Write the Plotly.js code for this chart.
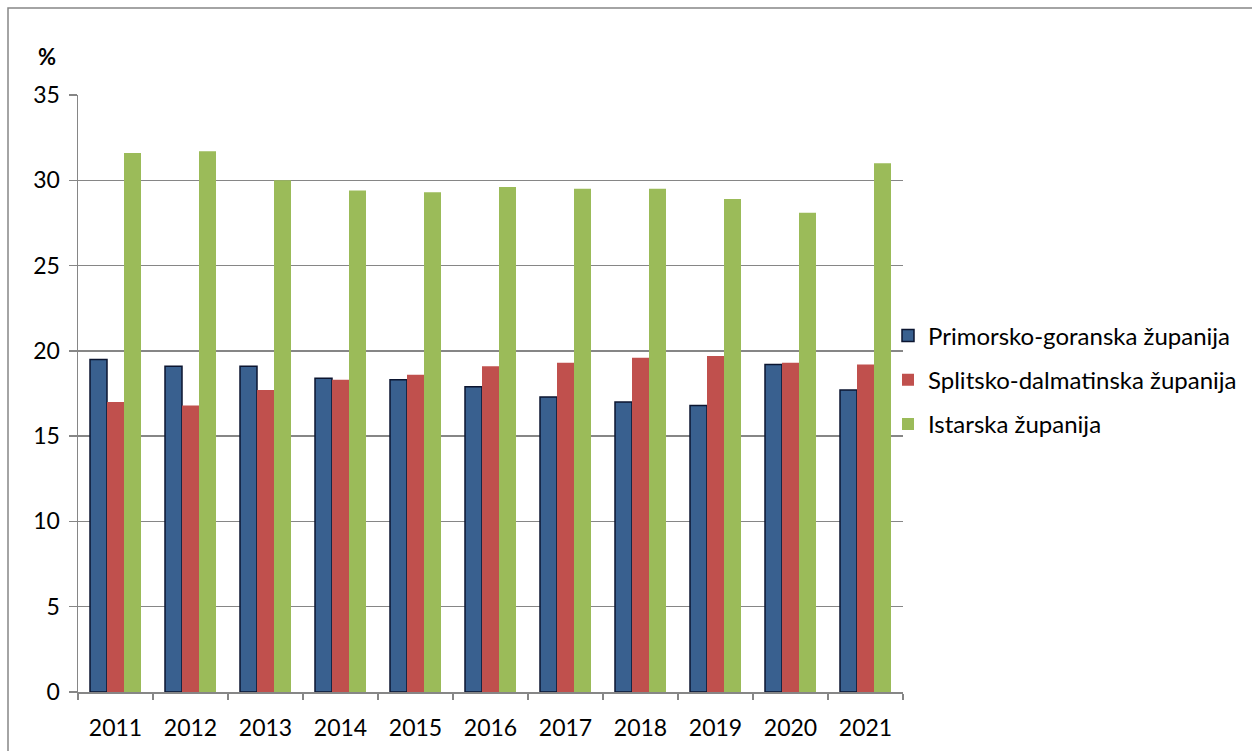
<!DOCTYPE html>
<html>
<head>
<meta charset="utf-8">
<script src="https://cdn.plot.ly/plotly-3.0.1.min.js"></script>
<style>html,body{margin:0;padding:0;background:#fff;}#chart{width:1252px;height:751px;}</style>
</head>
<body>
<div id="chart"></div>
<script>
const years = ['2011','2012','2013','2014','2015','2016','2017','2018','2019','2020','2021'];
const seriesNames = ['Primorsko-goranska županija','Splitsko-dalmatinska županija','Istarska županija'];
const primorsko = [19.5, 19.1, 19.1, 18.4, 18.3, 17.9, 17.3, 17.0, 16.8, 19.2, 17.7];
const splitsko = [17.0, 16.8, 17.7, 18.3, 18.6, 19.1, 19.3, 19.6, 19.7, 19.3, 19.2];
const istarska = [31.6, 31.7, 30.0, 29.4, 29.3, 29.6, 29.5, 29.5, 28.9, 28.1, 31.0];
const yTicks = [0, 5, 10, 15, 20, 25, 30, 35];

const font = "Lato, 'Open Sans', 'Noto Sans', sans-serif";

const traces = [
  {type:'bar', name: seriesNames[0], x: years, y: primorsko, legendgroup:'a',
   marker:{color:'#39608f', line:{color:'#0b1530', width:1.5}}},
  {type:'bar', name: seriesNames[1], x: years, y: splitsko, legendgroup:'b',
   marker:{color:'#c0504d', line:{width:0}}},
  {type:'bar', name: seriesNames[2], x: years, y: istarska, legendgroup:'c',
   marker:{color:'#9bbb59', line:{width:0}}}
];

const L = 78, R = 903, T = 95, B = 692;

const layout = {
  width:1252, height:751,
  margin:{l:L, r:1252-R, t:T, b:751-B, autoexpand:false},
  paper_bgcolor:'#fff', plot_bgcolor:'#fff',
  font:{family:font, size:24, color:'#000'},
  barmode:'group', bargap:0.32, bargroupgap:0,
  showlegend:true,
  legend:{xref:'container', yref:'container', x:888/1252, xanchor:'left', y:1-380/751, yanchor:'middle',
          traceorder:'grouped',
          font:{size:24, family:font}, tracegroupgap:10, itemwidth:30,
          bgcolor:'rgba(0,0,0,0)'},
  xaxis:{type:'category', showgrid:false, showline:true, linecolor:'#868686', linewidth:1.5,
         ticks:'outside', tickson:'boundaries', ticklen:6, tickcolor:'#868686', tickwidth:1.5,
         ticklabelstandoff:15, automargin:false,
         tickfont:{size:23, family:font}, fixedrange:true},
  yaxis:{range:[0,35], tickvals:yTicks, ticktext:yTicks.map(String),
         showgrid:true, gridcolor:'#868686', gridwidth:1.5,
         showline:true, linecolor:'#868686', linewidth:1.5,
         ticks:'outside', ticklen:8, tickcolor:'#868686', tickwidth:1.5,
         ticklabelstandoff:4, automargin:false,
         tickfont:{size:23, family:font}, zeroline:false, fixedrange:true},
  annotations:[{xref:'paper', yref:'paper', x:(47-L)/(R-L), y:(B-56)/(B-T), xanchor:'center', yanchor:'middle',
                text:'<b>%</b>', showarrow:false, font:{size:22, family:font}}],
  shapes:[{type:'rect', xref:'paper', yref:'paper', x0:(8-L)/(R-L), x1:2, y0:-0.3, y1:(B-8)/(B-T),
           line:{color:'#868686', width:1.5}, fillcolor:'rgba(0,0,0,0)', layer:'below'}]
};

Plotly.newPlot('chart', traces, layout, {displayModeBar:false, staticPlot:true});
</script>
</body>
</html>
